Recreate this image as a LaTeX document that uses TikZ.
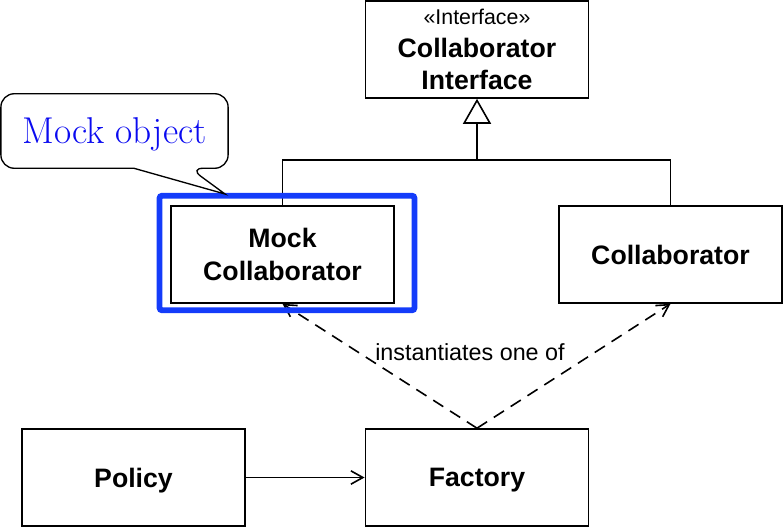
\documentclass[tikz,border=0pt]{standalone}
\usepackage{fontspec}
\setsansfont{Liberation Sans}
\usepackage{tikz}
\usetikzlibrary{arrows.meta,positioning,calc}
\definecolor{myblue}{RGB}{20,60,250}
\definecolor{mytextblue}{RGB}{10,10,240}
\tikzset{
  myclass/.style = {rectangle, draw, line width=1.2pt, minimum height=72.75pt, minimum width=167.5pt, inner sep=0pt, text depth=0pt, align=center, font=\sffamily\bfseries\fontsize{20}{24.5}\selectfont},
  myline/.style = {line width=1.2pt},
  myarrow/.style = {-{Straight Barb[length=9pt,width=10pt]}, line width=1.2pt},
  mydashed/.style = {myarrow, dash pattern=on 9pt off 6pt},
  myinherit/.style = {-{Triangle[open,length=18.75pt,width=21pt]}, line width=1.2pt},
  mynote/.style = {minimum width=170pt, minimum height=55.5pt, inner sep=0pt, text depth=0pt, text=mytextblue, font=\fontsize{28}{32}\selectfont},
  myframe/.style = {draw=myblue, line width=4.4pt, rounded corners=2pt},
  mylabel/.style = {font=\sffamily\fontsize{17.5}{21}\selectfont},
}
\begin{document}
\begin{tikzpicture}[x=0.75pt, y=-0.75pt]
\useasboundingbox (0,0) rectangle (784,528);
\node[myclass] (iface) at (477,49.5) {{\mdseries\fontsize{16}{19}\selectfont «Interface»}\\Collaborator\\Interface};
\node[myclass] (mock) at (282.5,254.5) {Mock\\Collaborator};
\node[myclass] (collab) at (670.5,254.5) {Collaborator};
\node[myclass] (policy) at (133.5,477.5) {Policy};
\node[myclass] (factory) at (477,477.5) {Factory};
\coordinate (hub) at (477,160);
\draw[myline] (mock.north) |- (hub) -| (collab.north);
\draw[myinherit] (hub) -- (iface.south);
\draw[myarrow] (policy) -- (factory);
\draw[mydashed] (factory.north) -- (mock.south);
\draw[mydashed] (factory.north) -- (collab.south);
\node[mylabel] (inst) at (470,352) {instantiates one of};
% highlight round the mock
\draw[myframe] ($(mock.south west)+(-10.5,6.5)$) rectangle ($(mock.north east)+(19.5,-9.5)$);
% callout
\node[mynote] (note) at (114.5,131) {Mock object};
\coordinate (tip) at (225,194);
\draw[line width=1pt] ($(note.south west)+(133,0)$) [rounded corners=10pt] -- (note.south west) -- (note.north west) -- (note.north east) -- (note.south east) -- ($(note.south west)+(189,0)$) [sharp corners] -- (tip) -- cycle;
\end{tikzpicture}
\end{document}
